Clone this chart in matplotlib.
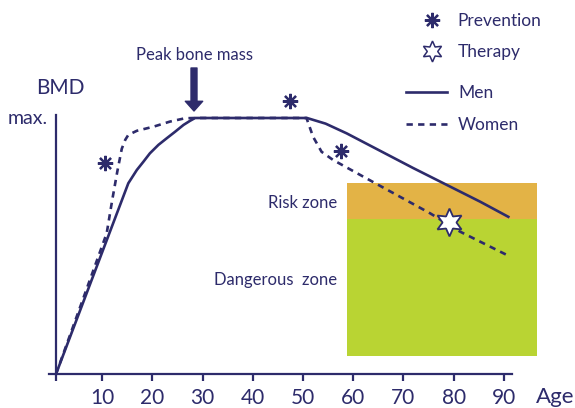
import matplotlib
matplotlib.use("Agg")
import matplotlib.pyplot as plt
from matplotlib.lines import Line2D

plt.rcParams['font.family'] = ['Lato', 'DejaVu Sans']

NAVY = '#2d2b6b'
ORANGE = '#e3b346'
GREEN = '#b9d433'

# bone mineral density curves (max. = 100)
men_age = [0.8, 15.2, 16.9, 18.2, 19.5, 21.2, 22.8, 24.5, 26.2, 27.5, 28.5,
           50.8, 54.5, 58.7, 71.9, 85.3, 90.9]
men_bmd = [0, 74.5, 79.7, 82.9, 86.2, 89.5, 92.0, 94.6, 97.3, 98.9, 100,
           100, 97.8, 94.0, 80.5, 67.3, 61.4]

women_age = [0.8, 10.9, 12.0, 13.0, 13.9, 14.6, 15.2, 16.9, 20.2, 23.5, 26.5, 28.5,
             50.7, 52.0, 53.7, 56.0, 62.0, 68.7, 75.3, 81.3, 90.6]
women_bmd = [0, 55.0, 68.0, 79.0, 88.0, 91.5, 93.4, 95.0, 96.6, 98.6, 99.9, 100,
             100, 92.7, 86.8, 83.6, 77.1, 69.9, 62.8, 55.6, 46.5]

prevention_age = [10.6, 47.4, 57.6]
prevention_bmd = [82.4, 106.6, 87.1]
therapy_age = [79.1]
therapy_bmd = [59.4]

# zones: x from, x to, bottom, top
risk_zone = (58.8, 96.6, 60.5, 74.6)
danger_zone = (58.8, 96.6, 7.0, 60.5)

xticks = [10, 20, 30, 40, 50, 60, 70, 80, 90]

W, H = 575, 408
fig = plt.figure(figsize=(W / 100, H / 100), dpi=100)
ax = fig.add_axes([0, 0, 1, 1])
ax.set_xlim(-52 / 5.02, (W - 52) / 5.02)
ax.set_ylim(-(H - 374) / 2.56, 374 / 2.56)
ax.patch.set_alpha(0)


def px(x, y):
    # figure pixel -> axes fraction (axes fill the figure)
    return x / W, 1 - y / H


# zones
for (x0, x1, y0, y1), c in [(risk_zone, ORANGE), (danger_zone, GREEN)]:
    ax.fill_between([x0, x1], y0, y1, color=c, lw=0, zorder=1)

# curves
ax.plot(men_age, men_bmd, color=NAVY, lw=1.9, zorder=3, solid_joinstyle='round')
ax.plot(women_age, women_bmd, color=NAVY, lw=1.9, ls=(0, (2.4, 2.0)), zorder=3)

# markers
ax.plot(prevention_age, prevention_bmd, ls='none', marker=(8, 2, 0), ms=11,
        mew=1.6, color=NAVY, zorder=4)
ax.plot(therapy_age, therapy_bmd, ls='none', marker=(6, 1, 0), ms=20,
        mfc='white', mec=NAVY, mew=1.3, zorder=5)

# axes
for s in ['top', 'right']:
    ax.spines[s].set_visible(False)
ax.spines['left'].set_position(('data', 0.8))
ax.spines['bottom'].set_position(('data', 0))
ax.spines['left'].set_bounds(0, 101.2)
ax.spines['bottom'].set_bounds(-0.6, 91.6)
for s in ['left', 'bottom']:
    ax.spines[s].set_color(NAVY)
    ax.spines[s].set_linewidth(1.6)
ax.set_xticks([0.8] + xticks)
ax.set_xticklabels([''] + [str(t) for t in xticks])
ax.set_yticks([])
ax.tick_params(axis='x', direction='out', length=5, width=1.6, color=NAVY,
               labelcolor=NAVY, labelsize=15, pad=5)

# text
ax.text(*px(8, 118), 'max.', transform=ax.transAxes, fontsize=14, color=NAVY,
        ha='left', va='center')
ax.text(*px(36, 88), 'BMD', transform=ax.transAxes, fontsize=15, color=NAVY,
        ha='left', va='center')
ax.text(*px(536, 397), 'Age', transform=ax.transAxes, fontsize=16, color=NAVY,
        ha='left', va='center')
ax.text(*px(337, 203), 'Risk zone', transform=ax.transAxes, fontsize=12,
        color=NAVY, ha='right', va='center')
ax.text(*px(337, 280), 'Dangerous  zone', transform=ax.transAxes, fontsize=12,
        color=NAVY, ha='right', va='center')
ax.text(*px(194, 55), 'Peak bone mass', transform=ax.transAxes, fontsize=12,
        color=NAVY, ha='center', va='center')
ax.annotate('', xy=px(194, 111), xytext=px(194, 68),
            xycoords='axes fraction', textcoords='axes fraction',
            arrowprops=dict(width=4.3, headwidth=12.5, headlength=7,
                            color=NAVY, shrink=0))

# legends
h1 = [Line2D([], [], ls='none', marker=(8, 2, 0), ms=11, mew=1.6, color=NAVY),
      Line2D([], [], ls='none', marker=(6, 1, 0), ms=15, mfc='white', mec=NAVY, mew=1.1)]
leg1 = ax.legend(h1, ['Prevention', 'Therapy'], loc='upper left',
                 bbox_to_anchor=px(422, 13), frameon=False, fontsize=12.5,
                 labelcolor=NAVY, handlelength=1.2, handletextpad=0.85,
                 labelspacing=0.85, borderpad=0, borderaxespad=0)
ax.add_artist(leg1)
h2 = [Line2D([], [], color=NAVY, lw=1.9),
      Line2D([], [], color=NAVY, lw=1.9, ls=(0, (2.4, 2.0)))]
ax.legend(h2, ['Men', 'Women'], loc='upper left', bbox_to_anchor=px(406, 85),
          frameon=False, fontsize=12.5, labelcolor=NAVY, handlelength=2.35,
          handletextpad=0.65, labelspacing=0.95, borderpad=0, borderaxespad=0)

fig.savefig('out.png', dpi=100)
